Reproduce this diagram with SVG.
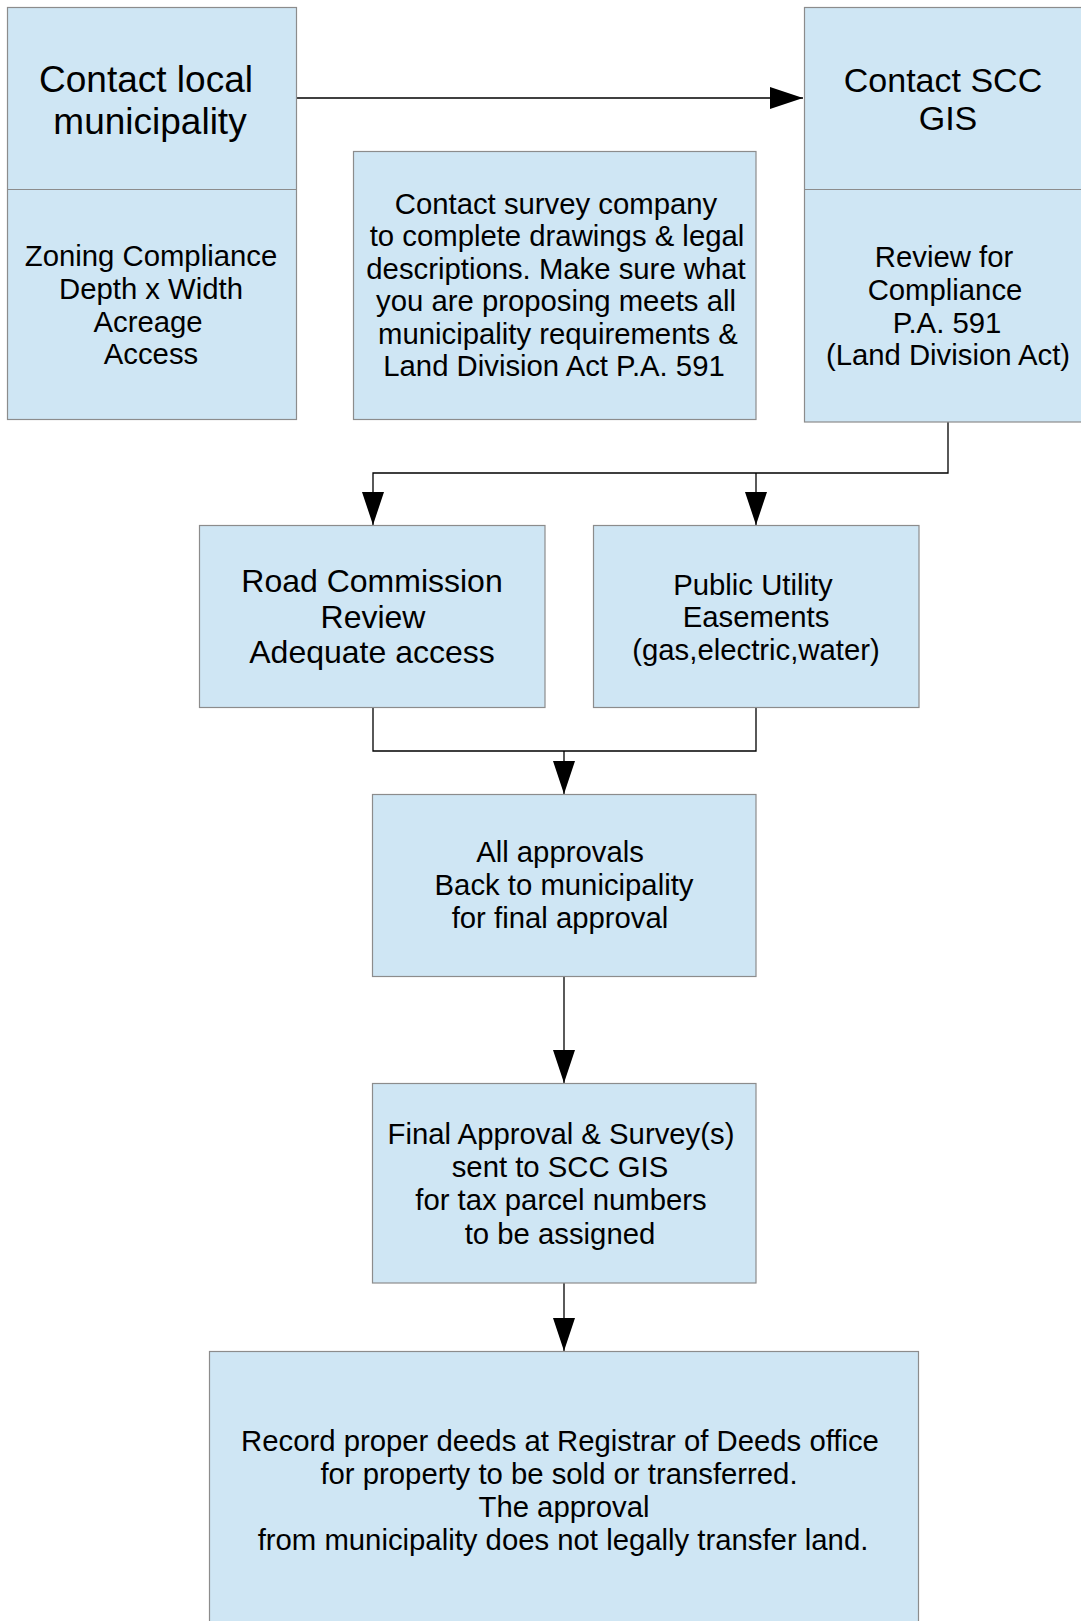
<svg xmlns="http://www.w3.org/2000/svg" width="1081" height="1621" viewBox="0 0 1081 1621">
<style>
.box{fill:#cfe6f4;stroke:#8c8c8c;stroke-width:1.2}
.div{stroke:#8c8c8c;stroke-width:1.2;fill:none}
text{font-family:"Liberation Sans",Arial,sans-serif;fill:#000;text-anchor:middle}
.t37{font-size:37px}
.t34{font-size:34px}
.t32{font-size:32px}
.t29{font-size:29.3px}
.conn{fill:none;stroke:#000;stroke-width:1.3}
</style>
<defs>
<marker id="ah" markerUnits="userSpaceOnUse" markerWidth="34" markerHeight="22" refX="33" refY="11" orient="auto" viewBox="0 0 34 22">
<path d="M0,0 L33,11 L0,22 z" fill="#000"/>
</marker>
</defs>
<rect width="1081" height="1621" fill="#fff"/>
<g id="connectors">
<path class="conn" d="M296,98 H803" marker-end="url(#ah)"/>
<path class="conn" d="M948,422 V473 H373 V525" marker-end="url(#ah)"/>
<path class="conn" d="M756,473 V525" marker-end="url(#ah)"/>
<path class="conn" d="M373,708 V751 H756 V708"/>
<path class="conn" d="M564,751 V794" marker-end="url(#ah)"/>
<path class="conn" d="M564,977 V1083" marker-end="url(#ah)"/>
<path class="conn" d="M564,1283 V1351" marker-end="url(#ah)"/>
</g>
<g id="node-contact-municipality">
<rect class="box" x="7.5" y="7.5" width="289" height="412"/>
<line class="div" x1="7.5" y1="189.5" x2="296.5" y2="189.5"/>
<text class="t37"><tspan x="146" y="92">Contact local</tspan><tspan x="150" y="134">municipality</tspan></text>
<text class="t29"><tspan x="151" y="266">Zoning Compliance</tspan><tspan x="151" y="298.5">Depth x Width</tspan><tspan x="148" y="331.5">Acreage</tspan><tspan x="151" y="364">Access</tspan></text>
</g>
<g id="node-contact-scc-gis">
<rect class="box" x="804.5" y="7.5" width="300" height="414.5"/>
<line class="div" x1="804.5" y1="189.5" x2="1081" y2="189.5"/>
<text class="t34"><tspan x="943" y="92">Contact SCC</tspan><tspan x="948" y="130">GIS</tspan></text>
<text class="t29"><tspan x="944" y="267">Review for</tspan><tspan x="945" y="299.5">Compliance</tspan><tspan x="947" y="332.5">P.A. 591</tspan><tspan x="948" y="365">(Land Division Act)</tspan></text>
</g>
<g id="node-survey-company">
<rect class="box" x="353.5" y="151.5" width="402.5" height="268"/>
<text class="t29"><tspan x="556" y="213.5">Contact survey company</tspan><tspan x="557" y="246">to complete drawings &amp; legal</tspan><tspan x="556" y="278.5">descriptions. Make sure what</tspan><tspan x="556" y="311">you are proposing meets all</tspan><tspan x="558" y="343.5">municipality requirements &amp;</tspan><tspan x="554" y="376">Land Division Act P.A. 591</tspan></text>
</g>
<g id="node-road-commission">
<rect class="box" x="199.5" y="525.5" width="345.5" height="182"/>
<text class="t32"><tspan x="372" y="592">Road Commission</tspan><tspan x="373" y="627.5">Review</tspan><tspan x="372" y="663">Adequate access</tspan></text>
</g>
<g id="node-public-utility">
<rect class="box" x="593.5" y="525.5" width="325.5" height="182"/>
<text class="t29"><tspan x="753" y="594.5">Public Utility</tspan><tspan x="756" y="626.5">Easements</tspan><tspan x="756" y="660">(gas,electric,water)</tspan></text>
</g>
<g id="node-all-approvals">
<rect class="box" x="372.5" y="794.5" width="383.5" height="182"/>
<text class="t29"><tspan x="560" y="862">All approvals</tspan><tspan x="564" y="895">Back to municipality</tspan><tspan x="560" y="928">for final approval</tspan></text>
</g>
<g id="node-final-approval">
<rect class="box" x="372.5" y="1083.5" width="383.5" height="199.5"/>
<text class="t29"><tspan x="561" y="1144">Final Approval &amp; Survey(s)</tspan><tspan x="560" y="1177">sent to SCC GIS</tspan><tspan x="561" y="1210">for tax parcel numbers</tspan><tspan x="560" y="1243.5">to be assigned</tspan></text>
</g>
<g id="node-record-deeds">
<rect class="box" x="209.5" y="1351.5" width="709" height="300"/>
<text class="t29"><tspan x="560" y="1451">Record proper deeds at Registrar of Deeds office</tspan><tspan x="559" y="1484">for property to be sold or transferred.</tspan><tspan x="564" y="1517">The approval</tspan><tspan x="563" y="1550">from municipality does not legally transfer land.</tspan></text>
</g>
</svg>
